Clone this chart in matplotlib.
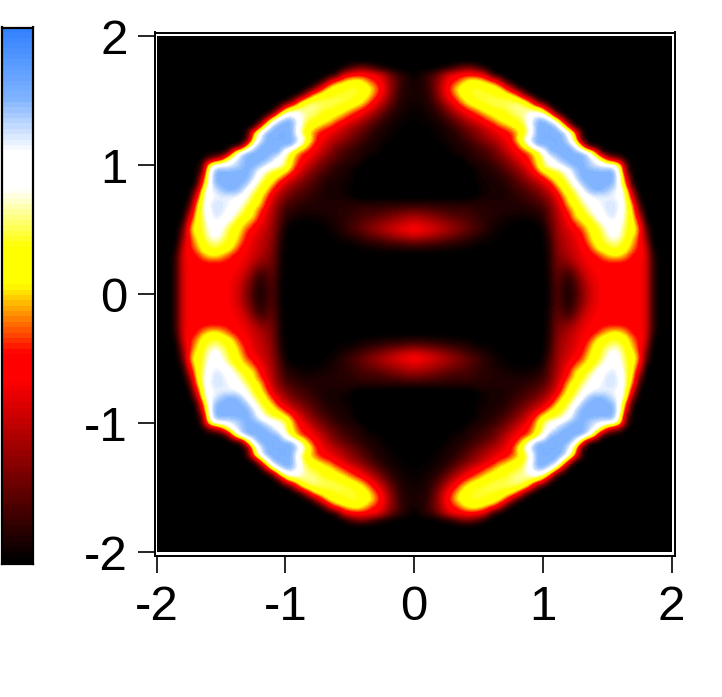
import numpy as np
import matplotlib
matplotlib.use("Agg")
import matplotlib.pyplot as plt
from matplotlib.colors import LinearSegmentedColormap
from matplotlib.patches import Rectangle

plt.rcParams['font.family'] = ['Liberation Sans', 'DejaVu Sans']
plt.rcParams['axes.unicode_minus'] = False

# Intensity read from the upper right quadrant, in percent of the colour scale.
# y value -> (x where the listed run starts, values every 0.05 along x); zero elsewhere.
rows = {
 1.75: (0.20, [2,4,8,14,18,16,10,3]),
 1.70: (0.05, [4,6,10,18,28,34,36,38,38,36,30,8]),
 1.65: (0.00, [3,4,8,14,22,32,38,44,52,56,54,50,44,34,10]),
 1.60: (0.00, [4,4,6,14,24,36,46,54,58,60,60,58,58,54,44,24,4]),
 1.55: (0.00, [4,4,6,12,22,34,44,52,58,60,62,60,60,58,56,52,42,16]),
 1.50: (0.00, [3,3,5,10,18,28,36,46,54,58,60,62,62,62,62,62,60,56,40,10]),
 1.45: (0.00, [2,3,4,7,12,20,28,36,44,50,54,58,60,62,62,64,66,64,60,52,38,6]),
 1.40: (0.00, [1,2,3,5,8,14,20,26,32,38,44,50,54,56,58,62,64,66,70,74,70,50,10]),
 1.35: (0.00, [1,1,2,3,5,8,13,18,24,30,34,40,46,52,56,58,60,64,76,86,87,82,66,30]),
 1.30: (0.00, [0,1,1,2,3,5,8,12,16,20,24,30,34,42,46,52,56,60,74,87,87,87,87,68,34]),
 1.25: (0.15, [2,2,4,5,8,12,16,20,24,28,32,36,40,48,56,70,87,87,87,87,87,76,48,6]),
 1.20: (0.20, [2,3,4,6,9,12,16,20,24,28,32,38,52,66,82,87,87,87,87,87,78,55,6]),
 1.15: (0.25, [2,3,4,6,8,11,14,17,22,28,34,42,56,72,87,87,87,87,87,87,78,48,5]),
 1.10: (0.30, [3,3,4,6,8,10,13,18,24,30,36,40,46,58,72,87,87,87,87,87,87,78,52,8]),
 1.05: (0.40, [4,5,6,8,11,14,18,24,30,36,42,52,64,74,82,87,87,87,87,84,76,60,30,18,10]),
 1.00: (0.45, [3,4,5,7,10,14,18,24,30,38,50,64,70,74,80,86,87,87,84,80,78,78,76,55,8]),
 0.95: (0.50, [3,4,5,7,10,14,18,24,32,42,54,58,60,66,74,84,87,87,87,87,87,87,66,12]),
 0.90: (0.50, [3,3,4,5,7,10,14,18,24,30,38,50,56,60,68,82,87,87,87,87,87,87,70,30]),
 0.85: (0.50, [2,3,3,4,5,8,11,14,18,22,28,34,50,56,62,72,84,87,87,87,87,86,70,40,2]),
 0.80: (0.55, [3,3,3,4,6,8,10,13,16,22,28,38,52,58,64,74,84,87,87,84,78,76,56,16]),
 0.75: (0.50, [3,3,3,3,4,5,6,8,10,12,16,22,30,44,54,60,68,74,78,78,78,78,74,60,30]),
 0.70: (0.00, [5,5,5,5,5,5,5,5,5,5,5,5,5,5,5,5,5,6,7,9,12,18,26,38,52,56,64,70,74,78,80,80,78,62,44,6]),
 0.65: (0.00, [14,13,12,11,10,9,8,8,8,7,6,5,5,5,4,4,4,4,5,6,8,14,24,32,44,52,58,66,72,76,80,80,76,62,50,14]),
 0.60: (0.00, [22,22,20,18,16,14,12,11,10,8,7,6,5,4,3,3,2,2,3,4,6,14,22,30,38,52,56,60,68,74,78,80,74,62,52,28]),
 0.55: (0.00, [30,28,26,24,22,20,17,15,13,10,8,6,4,3,2,1,1,0,1,1,4,12,20,28,34,42,50,54,60,68,74,76,72,60,54,38,4]),
 0.50: (0.00, [36,34,32,29,26,23,20,17,14,11,9,6,4,2,1,0,0,0,0,0,2,10,20,26,30,36,42,52,56,62,70,74,68,60,56,44,12]),
 0.45: (0.00, [28,26,24,22,19,17,14,12,9,7,5,3,2,1,0,0,0,0,0,0,1,8,19,24,28,32,38,48,56,60,68,72,68,58,52,40,16]),
 0.40: (0.00, [14,13,12,11,10,8,7,6,5,3,2,2,1,0,0,0,0,0,0,0,1,6,18,23,27,30,36,44,54,58,62,66,62,56,48,38,24]),
 0.35: (0.00, [4,4,4,3,3,3,2,2,1,1,0,0,0,0,0,0,0,0,0,0,1,5,17,22,26,29,34,38,48,56,58,60,58,54,44,38,28,3]),
 0.30: (1.05, [5,16,20,24,28,32,35,38,44,50,54,52,46,38,36,30,6]),
 0.25: (1.05, [5,15,18,20,26,30,33,36,38,40,40,40,38,36,35,30,8]),
 0.20: (1.05, [4,14,14,14,20,28,32,34,36,36,36,36,36,36,34,30,8]),
 0.15: (1.05, [4,13,11,8,15,24,30,33,35,36,36,36,36,36,34,30,8]),
 0.10: (1.05, [3,12,9,5,12,20,28,32,34,36,36,36,36,36,34,30,8]),
 0.05: (1.05, [3,11,8,4,10,18,26,31,34,36,36,36,36,36,34,30,8]),
 0.00: (1.05, [3,10,8,3,9,17,26,31,34,36,36,36,36,36,34,30,8]),
}
tick_values = [-2, -1, 0, 1, 2]

cmap_stops = [(0.0, '#000000'), (0.34, '#ff0000'), (0.39, '#ff0000'), (0.52, '#ffff00'),
              (0.59, '#ffff00'), (0.70, '#ffffff'), (0.77, '#ffffff'), (0.87, '#80b4ff'),
              (1.0, '#3282ff')]
cmap = LinearSegmentedColormap.from_list('igor', cmap_stops, N=100)

W, H = 722, 697
fig = plt.figure(figsize=(W / 100, H / 100), dpi=100)

def px_axes(l, t, r, b):
    return fig.add_axes([l / W, 1 - b / H, (r - l) / W, (b - t) / H])

n = 41
q = np.zeros((n, n))
for y, (x0, vals) in rows.items():
    r = int(round((2 - y) / 0.05))
    c = int(round(x0 / 0.05))
    q[r, c:c + len(vals)] = np.array(vals) / 100
upper = np.hstack([q[:, :0:-1], q])
full = np.vstack([upper, upper[-2::-1]])

ax = px_axes(154.5, 32.5, 674.5, 555.5)
sx = 128.75; sy = 128.9
ax.set_xlim(-2 - (156.5 - 154.5) / sx, 2 + (674.5 - 671.5) / sx)
ax.set_ylim(-2 - (555.5 - 552) / sy, 2 + (36.5 - 32.5) / sy)
im = ax.imshow(full, cmap=cmap, vmin=0, vmax=1, extent=(-2.025, 2.025, -2.025, 2.025),
               origin='upper', interpolation='bicubic', interpolation_stage='data', aspect='auto')
im.set_clip_path(Rectangle((-2, -2), 4, 4, transform=ax.transData))
ax.set_xticks(tick_values)
ax.set_yticks(tick_values)
ax.set_xticklabels([str(v) for v in tick_values])
ax.set_yticklabels([str(v) for v in tick_values])
ax.tick_params(length=12.2, width=1.2, labelsize=35.5)
ax.tick_params(axis='x', pad=9)
ax.tick_params(axis='y', pad=7)
for s in ax.spines.values():
    s.set_linewidth(1.4)

cax = px_axes(2, 27.5, 32.5, 563.5)
cax.imshow(np.linspace(1, 0, 100)[:, None], cmap=cmap, vmin=0, vmax=1, aspect='auto', interpolation='nearest')
cax.set_xticks([]); cax.set_yticks([])
for s in cax.spines.values():
    s.set_linewidth(1.6)

fig.savefig('out.png', dpi=100)
